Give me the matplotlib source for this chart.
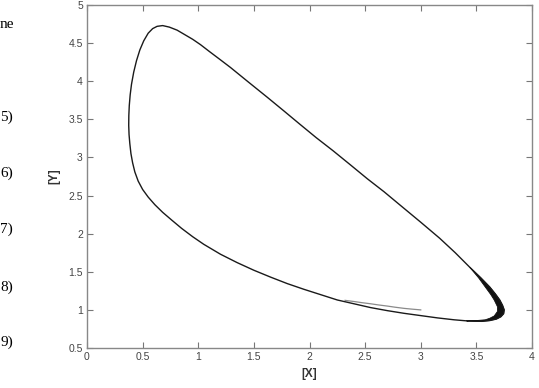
import numpy as np
import matplotlib
matplotlib.use("Agg")
import matplotlib.pyplot as plt

# limit cycle (outer edge at the nose), clockwise
cycle_x = [3.42, 3.30, 3.15, 3.00, 2.85, 2.70, 2.55, 2.40, 2.25, 2.10, 1.95, 1.80, 1.65,
           1.50, 1.35, 1.20, 1.05, 0.95, 0.85, 0.76, 0.68, 0.61, 0.55, 0.50, 0.46, 0.43,
           0.41, 0.395, 0.385, 0.378, 0.375, 0.376, 0.38, 0.388, 0.40, 0.42, 0.445, 0.475,
           0.51, 0.55, 0.59, 0.63, 0.68, 0.74, 0.81, 0.88, 0.95, 1.02, 1.10, 1.20, 1.29,
           1.45, 1.62, 1.77, 1.91, 2.06, 2.21, 2.37, 2.52, 2.67, 2.81, 3.00, 3.17, 3.31,
           3.44, 3.54, 3.62, 3.67, 3.71, 3.735, 3.75, 3.745, 3.72, 3.68, 3.62, 3.55, 3.48, 3.42]
cycle_y = [0.855, 0.87, 0.895, 0.925, 0.955, 0.99, 1.03, 1.08, 1.13, 1.20, 1.27, 1.345, 1.43,
           1.52, 1.62, 1.73, 1.86, 1.96, 2.07, 2.18, 2.28, 2.38, 2.48, 2.58, 2.69, 2.81,
           2.93, 3.05, 3.18, 3.30, 3.42, 3.55, 3.68, 3.82, 3.96, 4.12, 4.27, 4.41,
           4.53, 4.63, 4.69, 4.72, 4.73, 4.71, 4.67, 4.61, 4.55, 4.48, 4.39, 4.28, 4.18,
           3.99, 3.79, 3.61, 3.44, 3.26, 3.09, 2.90, 2.72, 2.55, 2.38, 2.15, 1.94, 1.75,
           1.56, 1.42, 1.30, 1.21, 1.13, 1.06, 1.00, 0.95, 0.91, 0.88, 0.86, 0.85, 0.851, 0.855]

# thick band around the nose: outer and inner edge
outer_x = [3.44, 3.54, 3.62, 3.67, 3.71, 3.735, 3.75, 3.745, 3.72, 3.68, 3.62, 3.55, 3.42]
outer_y = [1.56, 1.42, 1.30, 1.21, 1.13, 1.06, 1.00, 0.95, 0.91, 0.88, 0.86, 0.85, 0.855]
band_x = [3.44, 3.52, 3.58, 3.63, 3.66, 3.69, 3.69, 3.66, 3.62, 3.58, 3.50, 3.42]
band_y = [1.56, 1.42, 1.30, 1.20, 1.13, 1.04, 0.98, 0.92, 0.89, 0.87, 0.86, 0.855]

# transient starting at (3, 1)
trans_x = [3.00, 2.92, 2.85, 2.77, 2.70, 2.62, 2.55, 2.47, 2.40, 2.32]
trans_y = [1.00, 1.01, 1.02, 1.035, 1.05, 1.065, 1.08, 1.095, 1.11, 1.125]

xticks = [0, 0.5, 1, 1.5, 2, 2.5, 3, 3.5, 4]
yticks = [0.5, 1, 1.5, 2, 2.5, 3, 3.5, 4, 4.5, 5]

plt.rcParams['font.family'] = ['Liberation Sans', 'DejaVu Sans']

fig = plt.figure(figsize=(5.39, 3.88), dpi=100)
ax = fig.add_axes([87 / 539, 1 - 348 / 388, 445 / 539, 343 / 388])

ax.plot(trans_x, trans_y, color="#8a8a8a", lw=0.9)
ax.plot(cycle_x, cycle_y, color="#1a1a1a", lw=1.0)
ax.fill(outer_x + band_x[::-1], outer_y + band_y[::-1], color="#111111", lw=0.6)

ax.set_xlim(0, 4)
ax.set_ylim(0.5, 5)
ax.set_xticks(xticks)
ax.set_yticks(yticks)
ax.set_xticklabels([f"{t:g}" for t in xticks])
ax.set_yticklabels([f"{t:g}" for t in yticks])
ax.tick_params(direction="in", length=4, width=0.8, colors="#777777",
               labelcolor="#444444", labelsize=7.5, top=True, right=True, pad=3)
for s in ax.spines.values():
    s.set_color("#888888")
    s.set_linewidth(1.0)

ax.set_xlabel("[X]", fontsize=8.5, fontweight="bold", color="#333333", labelpad=4)
ax.set_ylabel("[Y]", fontsize=8.5, fontweight="bold", color="#333333", labelpad=6)

# bits of the page text next to the figure
serif = ['Liberation Serif', 'DejaVu Serif']
fig.text(14 / 539, 1 - 25 / 388, "ne", ha="right", va="center", fontsize=11, family=serif)
for lab, yy in [("5)", 117), ("6)", 173), ("7)", 229), ("8)", 287), ("9)", 342)]:
    fig.text(13 / 539, 1 - yy / 388, lab, ha="right", va="center", fontsize=11, family=serif)

fig.savefig("out.png", dpi=100)
